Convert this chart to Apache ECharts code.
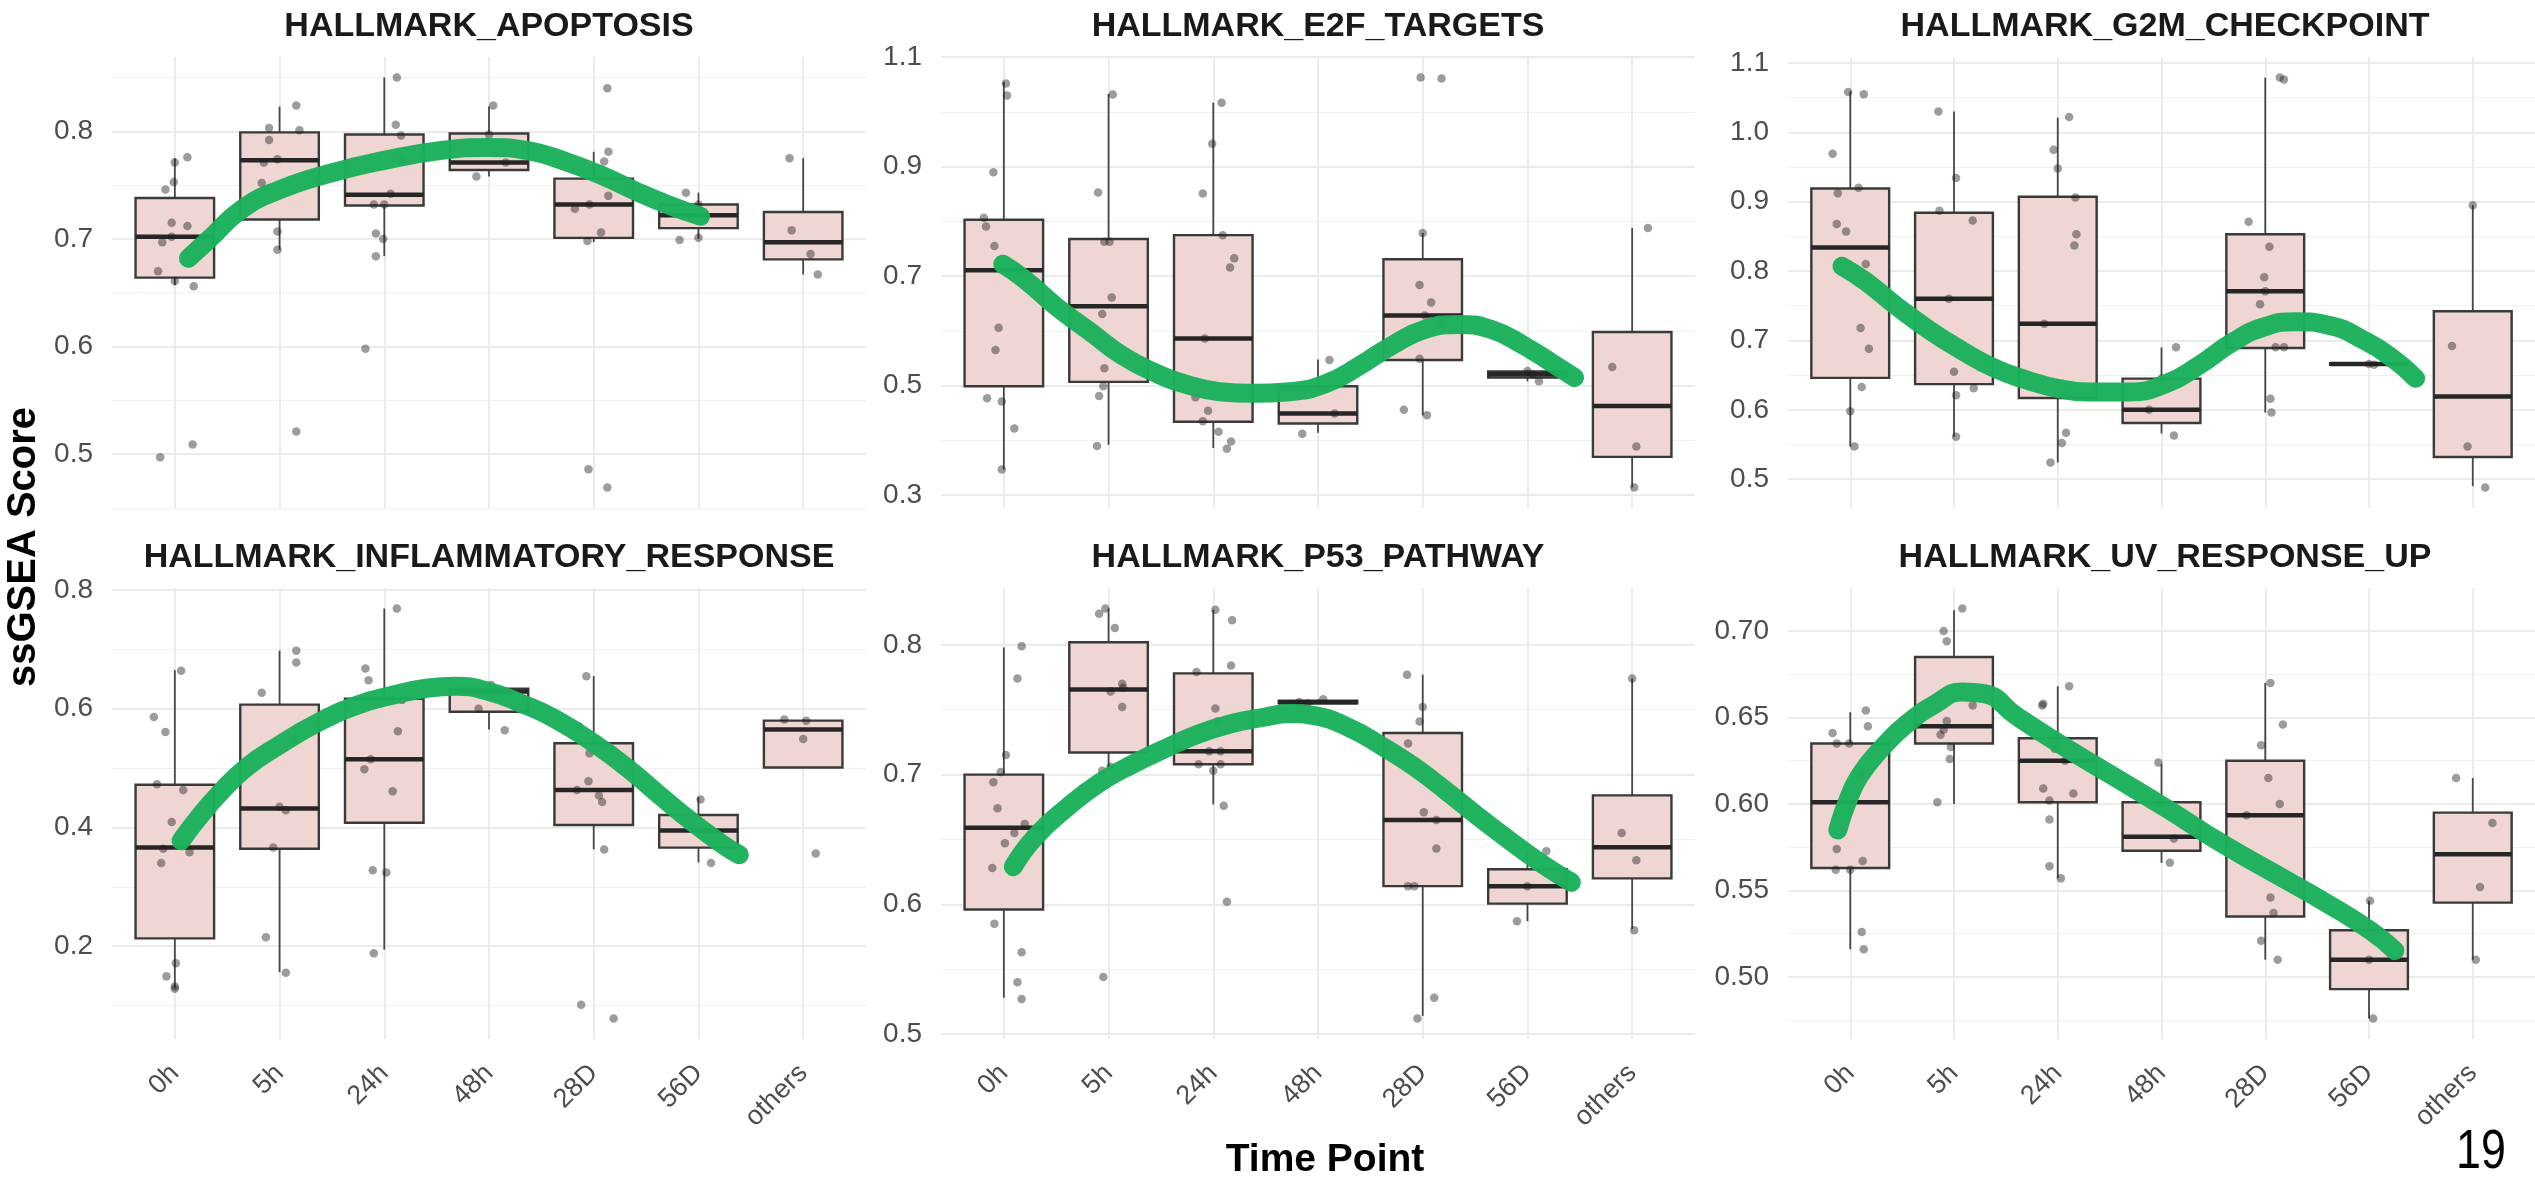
<!DOCTYPE html>
<html>
<head>
<meta charset="utf-8">
<script src="https://cdn.jsdelivr.net/npm/echarts@6/dist/echarts.min.js"></script>
<style>
html, body { margin: 0; padding: 0; background: #fff; }
#main { width: 2535px; height: 1182px; }
</style>
</head>
<body>
<div id="main"></div>
<script>
// time points on the x axis
const categories = ['0h', '5h', '24h', '48h', '28D', '56D', 'others'];
const panelTitles = ['HALLMARK_APOPTOSIS', 'HALLMARK_E2F_TARGETS', 'HALLMARK_G2M_CHECKPOINT',
  'HALLMARK_INFLAMMATORY_RESPONSE', 'HALLMARK_P53_PATHWAY', 'HALLMARK_UV_RESPONSE_UP'];

// boxes: [lower whisker, Q1, median, Q3, upper whisker] per time point
// pts: [time point position incl. jitter, score]
// fit: smooth trend line [x, score]
const apoptosisBox = [
  [0.657, 0.664, 0.702, 0.738, 0.775], [0.690, 0.718, 0.773, 0.799, 0.823],
  [0.684, 0.731, 0.741, 0.797, 0.850], [0.758, 0.764, 0.771, 0.798, 0.823],
  [0.697, 0.701, 0.732, 0.756, 0.781], [0.700, 0.710, 0.722, 0.732, 0.743],
  [0.667, 0.681, 0.697, 0.725, 0.775]];
const apoptosisPts = [
  [1.12, 0.776], [1.00, 0.771], [0.99, 0.753], [0.91, 0.746], [0.97, 0.715], [1.12, 0.712], [0.88, 0.697],
  [0.97, 0.702], [0.84, 0.670], [1.00, 0.661], [1.18, 0.656], [0.86, 0.497], [1.17, 0.509],
  [2.16, 0.824], [1.90, 0.803], [2.19, 0.801], [1.90, 0.792], [1.98, 0.774], [1.85, 0.771], [1.83, 0.752],
  [1.98, 0.707], [1.98, 0.690], [2.16, 0.521],
  [3.12, 0.850], [3.11, 0.806], [3.16, 0.796], [3.17, 0.773], [3.06, 0.742], [2.90, 0.732], [3.00, 0.732],
  [2.92, 0.705], [2.99, 0.700], [2.92, 0.684], [2.82, 0.598],
  [4.04, 0.824], [4.16, 0.771], [3.88, 0.758], [4.00, 0.797],
  [5.13, 0.840], [5.14, 0.781], [5.10, 0.772], [5.14, 0.740], [4.96, 0.732], [4.82, 0.728], [5.07, 0.706],
  [4.94, 0.698], [4.95, 0.486], [5.13, 0.469],
  [5.88, 0.743], [6.00, 0.732], [5.82, 0.699], [6.00, 0.701],
  [6.87, 0.775], [6.89, 0.708], [7.07, 0.686], [7.14, 0.667]];
const apoptosisFit = [[1.13, 0.682], [1.33, 0.700], [1.64, 0.7276], [2.0, 0.7457], [2.48, 0.761], [3.0, 0.773],
  [3.53, 0.782], [4.0, 0.785], [4.37, 0.782], [4.73, 0.772], [5.1, 0.758], [5.42, 0.7435], [5.73, 0.731], [6.02, 0.721]];
const apoptosisTicks = ['0.5', '0.6', '0.7', '0.8'];

const e2fBox = [
  [0.347, 0.499, 0.711, 0.803, 1.055], [0.392, 0.507, 0.645, 0.768, 1.033],
  [0.386, 0.434, 0.586, 0.775, 1.017], [0.414, 0.431, 0.449, 0.499, 0.548],
  [0.446, 0.547, 0.628, 0.731, 0.779], [0.508, 0.515, 0.521, 0.526, 0.528],
  [0.314, 0.370, 0.463, 0.598, 0.788]];
const e2fPts = [
  [1.02, 1.052], [1.03, 1.030], [0.90, 0.890], [0.81, 0.807], [0.83, 0.791], [0.91, 0.755], [0.95, 0.606],
  [0.92, 0.565], [0.84, 0.477], [0.98, 0.471], [1.10, 0.422], [0.98, 0.347],
  [2.04, 1.032], [1.90, 0.853], [1.96, 0.763], [2.01, 0.763], [2.03, 0.661], [1.94, 0.631], [1.96, 0.532],
  [1.95, 0.499], [1.91, 0.481], [1.89, 0.390],
  [3.08, 1.017], [2.99, 0.942], [2.90, 0.851], [3.09, 0.775], [3.20, 0.733], [3.16, 0.716], [2.92, 0.586],
  [2.83, 0.479], [2.95, 0.454], [2.90, 0.435], [3.05, 0.416], [3.17, 0.398], [3.13, 0.385],
  [4.11, 0.547], [4.16, 0.449], [3.85, 0.412], [4.00, 0.498],
  [4.98, 1.063], [5.18, 1.061], [5.00, 0.779], [4.97, 0.684], [5.08, 0.652], [5.02, 0.628], [5.17, 0.612],
  [4.97, 0.549], [4.82, 0.456], [5.04, 0.446],
  [6.00, 0.527], [6.11, 0.508], [6.05, 0.520],
  [7.15, 0.788], [6.81, 0.534], [7.04, 0.389], [7.02, 0.314]];
const e2fFit = [[0.99, 0.722], [1.2, 0.694], [1.51, 0.643], [1.82, 0.599], [2.13, 0.555], [2.44, 0.524],
  [2.75, 0.502], [3.06, 0.489], [3.37, 0.486], [3.73, 0.489], [4.09, 0.505], [4.4, 0.537], [4.71, 0.574],
  [5.02, 0.603], [5.34, 0.612], [5.65, 0.603], [5.96, 0.574], [6.27, 0.537], [6.45, 0.515]];
const e2fTicks = ['0.3', '0.5', '0.7', '0.9', '1.1'];

const g2mBox = [
  [0.547, 0.646, 0.834, 0.919, 1.059], [0.561, 0.637, 0.760, 0.884, 1.030],
  [0.524, 0.617, 0.724, 0.907, 1.021], [0.566, 0.581, 0.600, 0.645, 0.690],
  [0.596, 0.689, 0.771, 0.853, 1.079], [0.665, 0.665, 0.666, 0.667, 0.667],
  [0.490, 0.532, 0.619, 0.742, 0.895]];
const g2mPts = [
  [0.98, 1.058], [1.13, 1.055], [0.83, 0.969], [0.88, 0.912], [1.08, 0.920], [0.87, 0.868], [0.96, 0.857],
  [1.15, 0.810], [1.10, 0.718], [1.18, 0.688], [1.11, 0.633], [1.00, 0.598], [1.04, 0.547],
  [1.85, 1.030], [2.02, 0.934], [1.86, 0.887], [2.18, 0.873], [1.95, 0.760], [2.00, 0.655], [2.19, 0.631],
  [2.02, 0.621], [2.02, 0.561],
  [3.11, 1.022], [2.96, 0.975], [3.00, 0.948], [3.17, 0.906], [3.18, 0.853], [3.16, 0.837], [2.87, 0.724],
  [3.08, 0.621], [3.08, 0.567], [3.04, 0.552], [2.93, 0.524],
  [4.14, 0.690], [3.88, 0.600], [4.12, 0.563], [4.00, 0.645],
  [5.14, 1.079], [5.18, 1.076], [4.84, 0.871], [5.04, 0.835], [4.99, 0.791], [5.00, 0.771], [4.95, 0.752],
  [5.10, 0.690], [5.18, 0.690], [5.05, 0.616], [5.06, 0.596],
  [6.00, 0.666], [6.05, 0.665],
  [6.80, 0.692], [6.95, 0.547], [7.12, 0.488], [7.00, 0.895]];
const g2mFit = [[0.92, 0.807], [1.14, 0.786], [1.45, 0.749], [1.765, 0.7146], [2.08, 0.685], [2.39, 0.660],
  [2.7, 0.643], [3.01, 0.6306], [3.33, 0.6257], [3.69, 0.6257], [4.05, 0.638], [4.37, 0.665], [4.68, 0.697],
  [4.99, 0.7195], [5.3, 0.727], [5.61, 0.722], [5.93, 0.702], [6.24, 0.6726], [6.45, 0.6454]];
const g2mTicks = ['0.5', '0.6', '0.7', '0.8', '0.9', '1.0', '1.1'];

const inflamBox = [
  [0.129, 0.213, 0.366, 0.472, 0.665], [0.156, 0.364, 0.432, 0.607, 0.698],
  [0.194, 0.408, 0.515, 0.617, 0.769], [0.565, 0.595, 0.629, 0.634, 0.640],
  [0.363, 0.404, 0.463, 0.542, 0.655], [0.341, 0.366, 0.395, 0.421, 0.451],
  [0.501, 0.501, 0.565, 0.580, 0.582]];
const inflamPts = [
  [1.06, 0.664], [0.80, 0.586], [0.91, 0.561], [0.83, 0.473], [1.08, 0.463], [0.97, 0.409], [0.89, 0.364],
  [1.14, 0.358], [0.87, 0.340], [1.01, 0.171], [0.92, 0.149], [1.00, 0.132], [1.00, 0.128],
  [2.16, 0.698], [2.16, 0.678], [1.83, 0.627], [2.14, 0.548], [2.00, 0.435], [2.06, 0.429], [1.94, 0.366],
  [1.87, 0.215], [2.06, 0.155],
  [3.12, 0.769], [2.82, 0.668], [2.85, 0.648], [3.17, 0.615], [3.13, 0.562], [2.87, 0.515], [2.81, 0.498],
  [3.08, 0.461], [2.89, 0.328], [3.02, 0.324], [2.90, 0.188],
  [4.02, 0.640], [4.00, 0.630], [4.15, 0.564], [3.90, 0.600],
  [4.93, 0.655], [4.86, 0.570], [4.96, 0.525], [4.95, 0.478], [4.84, 0.463], [5.05, 0.454], [5.08, 0.443],
  [5.10, 0.363], [4.88, 0.101], [5.19, 0.078],
  [6.02, 0.447], [6.12, 0.340], [6.00, 0.395],
  [6.82, 0.582], [7.03, 0.580], [7.00, 0.549], [7.12, 0.356]];
const inflamFit = [[1.06, 0.3775], [1.22, 0.415], [1.43, 0.458], [1.69, 0.502], [2.0, 0.539], [2.37, 0.577],
  [2.74, 0.606], [3.11, 0.624], [3.42, 0.635], [3.68, 0.638], [4.0, 0.629], [4.31, 0.609], [4.63, 0.583],
  [5.0, 0.542], [5.31, 0.502], [5.62, 0.4555], [5.94, 0.409], [6.25, 0.369], [6.39, 0.354]];
const inflamTicks = ['0.2', '0.4', '0.6', '0.8'];

const p53Box = [
  [0.528, 0.596, 0.659, 0.700, 0.798], [0.704, 0.717, 0.7655, 0.802, 0.828],
  [0.677, 0.708, 0.718, 0.778, 0.827], [0.7545, 0.755, 0.7557, 0.757, 0.758],
  [0.514, 0.614, 0.665, 0.732, 0.777], [0.587, 0.6005, 0.614, 0.627, 0.641],
  [0.581, 0.620, 0.644, 0.684, 0.774]];
const p53Pts = [
  [1.17, 0.799], [1.13, 0.774], [1.02, 0.715], [0.97, 0.702], [0.90, 0.694], [0.94, 0.674], [1.20, 0.662],
  [1.10, 0.655], [1.01, 0.647], [0.89, 0.628], [0.91, 0.585], [1.17, 0.563], [1.13, 0.540], [1.17, 0.527],
  [1.97, 0.828], [1.91, 0.824], [2.06, 0.813], [2.13, 0.770], [2.02, 0.764], [2.14, 0.767], [2.13, 0.752],
  [1.94, 0.703], [2.02, 0.706], [1.95, 0.544],
  [3.02, 0.827], [3.18, 0.819], [3.17, 0.784], [2.84, 0.779], [3.02, 0.751], [3.04, 0.741], [2.96, 0.718],
  [3.07, 0.718], [2.86, 0.708], [3.07, 0.708], [3.00, 0.703], [3.10, 0.676], [3.13, 0.602],
  [3.82, 0.756], [4.05, 0.758], [3.90, 0.755],
  [4.85, 0.777], [5.00, 0.752], [4.97, 0.741], [4.86, 0.724], [5.01, 0.671], [5.13, 0.665], [5.13, 0.643],
  [4.86, 0.614], [4.92, 0.614], [5.11, 0.528], [4.95, 0.512],
  [6.18, 0.641], [5.90, 0.587], [6.00, 0.614],
  [7.00, 0.774], [6.90, 0.655], [7.04, 0.634], [7.02, 0.580]];
const p53Fit = [[1.09, 0.629], [1.3, 0.652], [1.61, 0.675], [1.92, 0.694], [2.23, 0.708], [2.54, 0.720],
  [2.85, 0.731], [3.16, 0.739], [3.47, 0.744], [3.73, 0.747], [3.99, 0.745], [4.3, 0.736], [4.61, 0.722],
  [4.92, 0.706], [5.23, 0.687], [5.54, 0.667], [5.85, 0.648], [6.16, 0.630], [6.42, 0.617]];
const p53Ticks = ['0.5', '0.6', '0.7', '0.8'];

const uvBox = [
  [0.516, 0.563, 0.601, 0.635, 0.653], [0.600, 0.635, 0.645, 0.685, 0.712],
  [0.557, 0.601, 0.625, 0.638, 0.668], [0.566, 0.573, 0.581, 0.601, 0.623],
  [0.510, 0.535, 0.5935, 0.625, 0.670], [0.476, 0.493, 0.510, 0.527, 0.544],
  [0.510, 0.543, 0.571, 0.595, 0.615]];
const uvPts = [
  [1.15, 0.654], [1.17, 0.645], [0.83, 0.641], [0.87, 0.635], [0.99, 0.635], [1.11, 0.617], [0.87, 0.574],
  [1.12, 0.567], [0.86, 0.562], [1.00, 0.562], [1.11, 0.526], [1.13, 0.516],
  [2.08, 0.713], [1.90, 0.700], [1.93, 0.694], [2.18, 0.657], [1.93, 0.648], [1.90, 0.643], [1.87, 0.640],
  [1.97, 0.633], [1.96, 0.626], [1.84, 0.601],
  [3.11, 0.668], [2.86, 0.658], [2.85, 0.657], [2.97, 0.639], [2.97, 0.632], [3.07, 0.625], [2.86, 0.609],
  [3.15, 0.606], [2.92, 0.602], [2.92, 0.591], [2.92, 0.564], [3.03, 0.557],
  [3.97, 0.624], [4.12, 0.580], [4.08, 0.566], [4.00, 0.601],
  [5.05, 0.670], [5.17, 0.646], [4.96, 0.634], [5.03, 0.615], [5.14, 0.600], [4.82, 0.5935], [5.05, 0.546],
  [5.08, 0.537], [4.96, 0.521], [5.12, 0.510],
  [6.01, 0.544], [6.04, 0.476], [6.00, 0.510],
  [6.84, 0.615], [7.19, 0.589], [7.07, 0.552], [7.03, 0.510]];
const uvFit = [[0.88, 0.585], [0.97, 0.601], [1.09, 0.6162], [1.3, 0.632], [1.56, 0.647], [1.82, 0.6578],
  [2.08, 0.6648], [2.29, 0.6638], [2.6, 0.6509], [3.01, 0.635], [3.53, 0.6162], [4.05, 0.5974],
  [4.57, 0.5776], [5.09, 0.5598], [5.61, 0.542], [6.03, 0.5261], [6.25, 0.5152]];
const uvTicks = ['0.50', '0.55', '0.60', '0.65', '0.70'];

const panels = [
  { box: apoptosisBox, pts: apoptosisPts, fit: apoptosisFit, ticks: apoptosisTicks },
  { box: e2fBox, pts: e2fPts, fit: e2fFit, ticks: e2fTicks },
  { box: g2mBox, pts: g2mPts, fit: g2mFit, ticks: g2mTicks },
  { box: inflamBox, pts: inflamPts, fit: inflamFit, ticks: inflamTicks },
  { box: p53Box, pts: p53Pts, fit: p53Fit, ticks: p53Ticks },
  { box: uvBox, pts: uvPts, fit: uvFit, ticks: uvTicks }
];

// layout
const gridPos = [[112, 57], [941, 57], [1788, 57], [112, 588], [941, 588], [1788, 588]];
const gridW = 754, gridH = 451;
const FONT = 'Liberation Sans, Arial, Helvetica, sans-serif';
const GRID_COL = '#EBEBEB';
const GREEN = '#1BB15B';
const catPos = categories.map((c, k) => k + 1);

function renderBox(params, api) {
  const x = api.value(0);
  const pLo = api.coord([x, api.value(1)]);
  const pQ1 = api.coord([x, api.value(2)]);
  const pMd = api.coord([x, api.value(3)]);
  const pQ3 = api.coord([x, api.value(4)]);
  const pHi = api.coord([x, api.value(5)]);
  const half = api.size([0.75, 0])[0] / 2; // ggplot default box width
  const cx = pMd[0];
  return {
    type: 'group',
    children: [
      { type: 'line', shape: { x1: cx, y1: pHi[1], x2: cx, y2: pQ3[1] }, style: { stroke: '#474747', lineWidth: 1.8 } },
      { type: 'line', shape: { x1: cx, y1: pQ1[1], x2: cx, y2: pLo[1] }, style: { stroke: '#474747', lineWidth: 1.8 } },
      { type: 'rect', shape: { x: cx - half, y: pQ3[1], width: half * 2, height: pQ1[1] - pQ3[1] },
        style: { fill: '#EFD6D2', stroke: '#3a3a3a', lineWidth: 2.4 } },
      { type: 'line', shape: { x1: cx - half, y1: pMd[1], x2: cx + half, y2: pMd[1] }, style: { stroke: '#262626', lineWidth: 4.5 } }
    ]
  };
}

const option = {
  animation: false,
  backgroundColor: '#fff',
  grid: [], xAxis: [], yAxis: [], series: [], graphic: []
};

panels.forEach((p, i) => {
  const [left, top] = gridPos[i];
  option.grid.push({ left: left, top: top, width: gridW, height: gridH });

  // y range the ggplot way: data range plus 5% each side
  const vals = p.pts.map(d => d[1]).concat(p.box.map(b => b[0]), p.box.map(b => b[4]), p.fit.map(d => d[1]));
  const lo = Math.min(...vals), hi = Math.max(...vals);
  const pad = (hi - lo) * 0.05;
  const ymin = lo - pad, ymax = hi + pad;
  const major = p.ticks.map(Number);
  const step = major[1] - major[0];
  const minor = [];
  for (let k = 0; k < 40; k++) {
    const v = +(major[0] - step / 2 + k * step).toFixed(5);
    if (v > ymax) break;
    if (v >= ymin) minor.push(v);
  }

  option.xAxis.push({
    type: 'value', gridIndex: i, min: 0.4, max: 7.6,
    axisLine: { show: false },
    axisTick: { show: false, customValues: catPos },
    splitLine: { show: true, lineStyle: { color: GRID_COL, width: 2 } },
    axisLabel: {
      show: i >= 3, customValues: catPos, rotate: 45, margin: 30,
      color: '#4D4D4D', fontSize: 27, fontFamily: FONT,
      formatter: v => categories[Math.round(v) - 1]
    }
  });
  option.yAxis.push({
    type: 'value', gridIndex: i, min: ymin, max: ymax,
    axisLine: { show: false },
    axisTick: { show: false, customValues: major },
    splitLine: { show: true, lineStyle: { color: GRID_COL, width: 2 } },
    axisLabel: {
      customValues: major, margin: 19, color: '#4D4D4D', fontSize: 28, fontFamily: FONT,
      formatter: v => p.ticks[major.findIndex(m => Math.abs(m - v) < 1e-6)]
    }
  });
  option.yAxis.push({
    type: 'value', gridIndex: i, min: ymin, max: ymax,
    axisLine: { show: false },
    axisTick: { show: false, customValues: minor },
    axisLabel: { show: false },
    splitLine: { show: true, lineStyle: { color: '#F0F0F0', width: 1.2 } }
  });

  option.series.push({
    type: 'custom', xAxisIndex: i, yAxisIndex: 2 * i, silent: true, z: 2,
    renderItem: renderBox,
    encode: { x: 0, y: [1, 2, 3, 4, 5] },
    data: p.box.map((b, k) => [catPos[k]].concat(b))
  });
  option.series.push({
    type: 'scatter', xAxisIndex: i, yAxisIndex: 2 * i, silent: true, z: 3,
    symbolSize: 8.5,
    itemStyle: { color: 'rgba(30,30,30,0.55)' },
    data: p.pts
  });
  option.series.push({
    type: 'line', xAxisIndex: i, yAxisIndex: 2 * i, silent: true, z: 4,
    smooth: 0.5, showSymbol: false, symbol: 'none',
    lineStyle: { color: GREEN, width: 19, cap: 'round', join: 'round', opacity: 0.97 },
    data: p.fit
  });

  option.graphic.push({
    type: 'text', x: left + gridW / 2, y: i < 3 ? 27 : 558, silent: true,
    style: { text: panelTitles[i], font: 'bold 34px ' + FONT, fill: '#1a1a1a', textAlign: 'center', textVerticalAlign: 'middle' }
  });
});

option.graphic.push({
  type: 'text', x: 24, y: 547, rotation: Math.PI / 2, silent: true,
  style: { text: 'ssGSEA Score', font: 'bold 40px ' + FONT, fill: '#000', textAlign: 'center', textVerticalAlign: 'middle' }
});
option.graphic.push({
  type: 'text', x: 1325, y: 1160, silent: true,
  style: { text: 'Time Point', font: 'bold 39px ' + FONT, fill: '#000', textAlign: 'center', textVerticalAlign: 'middle' }
});
option.graphic.push({
  type: 'text', x: 2481, y: 1153, scaleX: 0.8, silent: true,
  style: { text: '19', font: '56px ' + FONT, fill: '#000', textAlign: 'center', textVerticalAlign: 'middle' }
});

const chart = echarts.init(document.getElementById('main'));
chart.setOption(option);
window.addEventListener('resize', () => chart.resize());
</script>
</body>
</html>
